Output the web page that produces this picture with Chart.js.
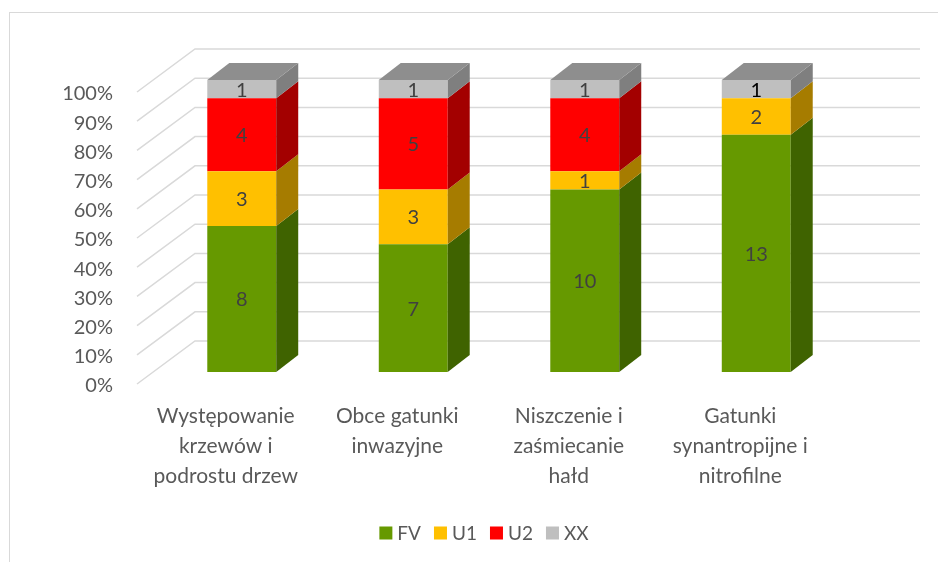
<!DOCTYPE html>
<html>
<head>
<meta charset="utf-8">
<script src="https://cdn.jsdelivr.net/npm/chart.js@4.4.0/dist/chart.umd.min.js"></script>
<style>
  html, body { margin: 0; padding: 0; background: #fff; overflow: hidden; }
</style>
</head>
<body>
<canvas id="chart" width="938" height="562"></canvas>
<script>
// data
let categories = [
    ["Występowanie", "krzewów i", "podrostu drzew"],
    ["Obce gatunki", "inwazyjne"],
    ["Niszczenie i", "zaśmiecanie", "hałd"],
    ["Gatunki", "synantropijne i", "nitrofilne"]
];
let seriesNames = ["FV", "U1", "U2", "XX"];
let fv = [8, 7, 10, 13];
let u1 = [3, 3, 1, 2];
let u2 = [4, 5, 4, 0];
let xx = [1, 1, 1, 1];
let yTicks = [0, 10, 20, 30, 40, 50, 60, 70, 80, 90, 100];

let frontColors = ['#669900', '#FFC000', '#FF0000', '#BFBFBF'];
let sideColors = ['#3F6300', '#A67C00', '#A30000', '#7F7F7F'];
let topColor = '#8E8E8E';
let fontFamily = "Lato, 'Open Sans', sans-serif";

let counts = [fv, u1, u2, xx];
let totals = categories.map((c, i) => counts.reduce((s, arr) => s + arr[i], 0));

function percent(arr) {
    return arr.map((v, i) => v / totals[i] * 100);
}

// depth of the bars
const BAR_DX = 22, BAR_DY = -17;

const threeD = {
    id: 'threeD',
    beforeDraw(chart) {
        let ctx = chart.ctx;
        ctx.save();
        ctx.strokeStyle = '#D9D9D9';
        ctx.lineWidth = 1;
        ctx.strokeRect(9.5, 12.5, 1000, 1000);
        ctx.restore();
    },
    beforeDatasetsDraw(chart) {
        // floor diagonals + back wall gridlines
        let ctx = chart.ctx;
        let y = chart.scales.y;
        let area = chart.chartArea;
        ctx.save();
        ctx.strokeStyle = '#D9D9D9';
        ctx.lineWidth = 1.5;
        yTicks.forEach((v) => {
            let py = y.getPixelForValue(v);
            ctx.beginPath();
            ctx.moveTo(area.left - 19, py + 12);
            ctx.lineTo(area.left + 39, py - 31);
            ctx.lineTo(area.right + 78, py - 31);
            ctx.stroke();
        });
        ctx.restore();
    },
    afterDatasetsDraw(chart) {
        let ctx = chart.ctx;
        ctx.save();
        let metas = chart.data.datasets.map((d, i) => chart.getDatasetMeta(i));
        metas.forEach((meta, di) => {
            meta.data.forEach((bar, i) => {
                if (counts[di][i] <= 0) return;
                let right = bar.x + bar.width / 2;
                let top = Math.min(bar.y, bar.base);
                let bottom = Math.max(bar.y, bar.base);
                ctx.fillStyle = sideColors[di];
                ctx.beginPath();
                ctx.moveTo(right, top);
                ctx.lineTo(right + BAR_DX, top + BAR_DY);
                ctx.lineTo(right + BAR_DX, bottom + BAR_DY);
                ctx.lineTo(right, bottom);
                ctx.closePath();
                ctx.fill();
            });
        });
        // top faces
        categories.forEach((c, i) => {
            let topIdx = -1;
            counts.forEach((arr, di) => { if (arr[i] > 0) topIdx = di; });
            let bar = metas[topIdx].data[i];
            let left = bar.x - bar.width / 2;
            let right = bar.x + bar.width / 2;
            let top = Math.min(bar.y, bar.base);
            ctx.fillStyle = topIdx == 3 ? topColor : sideColors[topIdx];
            ctx.beginPath();
            ctx.moveTo(left, top);
            ctx.lineTo(left + BAR_DX, top + BAR_DY);
            ctx.lineTo(right + BAR_DX, top + BAR_DY);
            ctx.lineTo(right, top);
            ctx.closePath();
            ctx.fill();
        });
        // value labels
        ctx.font = '20px ' + fontFamily;
        ctx.textAlign = 'center';
        ctx.textBaseline = 'middle';
        metas.forEach((meta, di) => {
            meta.data.forEach((bar, i) => {
                if (counts[di][i] <= 0) return;
                ctx.fillStyle = (di == 3 && i == 3) ? '#000000' : '#404040';
                ctx.fillText(String(counts[di][i]), bar.x, (bar.y + bar.base) / 2 + 1);
            });
        });

        // legend
        ctx.font = '19px ' + fontFamily;
        ctx.textAlign = 'left';
        let box = 13, gap = 5, spacing = 13;
        let widths = seriesNames.map((n) => box + gap + ctx.measureText(n).width);
        let total = widths.reduce((a, b) => a + b, 0) + spacing * (seriesNames.length - 1);
        let lx = 484 - total / 2;
        let ly = 533;
        seriesNames.forEach((n, di) => {
            ctx.fillStyle = frontColors[di];
            ctx.fillRect(lx, ly - box / 2, box, box);
            ctx.fillStyle = '#595959';
            ctx.fillText(n, lx + box + gap, ly + 1);
            lx += widths[di] + spacing;
        });
        ctx.restore();
    }
};

let datasets = seriesNames.map((name, di) => ({
    label: name,
    data: percent(counts[di]),
    backgroundColor: frontColors[di],
    borderWidth: 0,
    categoryPercentage: 1,
    barPercentage: 0.402
}));

let ctx = document.getElementById('chart').getContext('2d');
let chart = new Chart(ctx, {
    type: 'bar',
    data: { labels: categories, datasets: datasets },
    plugins: [threeD],
    options: {
        responsive: false,
        devicePixelRatio: 1,
        animation: false,
        layout: { padding: { top: 80, right: 96, left: 0, bottom: 60 } },
        plugins: {
            tooltip: { enabled: false },
            legend: { display: false }
        },
        scales: {
            x: {
                stacked: true,
                grid: { display: false, drawTicks: false },
                border: { display: false },
                ticks: {
                    color: '#595959',
                    padding: 29,
                    labelOffset: -16,
                    maxRotation: 0,
                    autoSkip: false,
                    font: { family: fontFamily, size: 21, lineHeight: 1.43 }
                },
                afterFit(scale) { scale.height = 130; }
            },
            y: {
                stacked: true,
                min: 0,
                max: 100,
                grid: { display: false, drawTicks: false },
                border: { display: false },
                ticks: {
                    stepSize: 10,
                    color: '#595959',
                    padding: 43,
                    labelOffset: 14,
                    font: { family: fontFamily, size: 20 },
                    callback: (v) => v + '%'
                },
                afterFit(scale) { scale.width = 156; }
            }
        }
    }
});
</script>
</body>
</html>
